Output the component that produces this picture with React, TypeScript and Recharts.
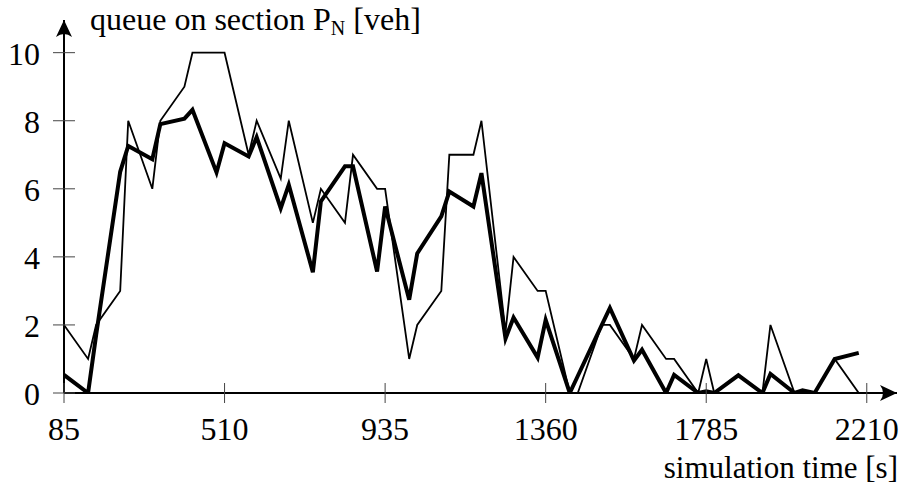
import React from 'react';
import { LineChart, Line, XAxis, YAxis, ReferenceDot, Label } from 'recharts';

// simulation time [s] of each sample
const times = [
  85, 148.75, 170, 233.75, 255, 318.75, 340, 403.75, 425, 488.75,
  510, 573.75, 595, 658.75, 680, 743.75, 765, 828.75, 850, 913.75,
  935, 998.75, 1020, 1083.75, 1105, 1168.75, 1190, 1253.75, 1275, 1338.75,
  1360, 1423.75, 1445, 1508.75, 1530, 1593.75, 1615, 1678.75, 1700, 1763.75,
  1785, 1806.25, 1870, 1933.75, 1955, 2018.75, 2040, 2072, 2125, 2188.75,
];

// thin line: measured queue
const measured = [
  2, 1, 2, 3, 8, 6, 8, 9, 10, 10,
  10, 7, 8, 6.3, 8, 5, 6, 5, 7, 6,
  6, 1, 2, 3, 7, 7, 8, 1.8, 4, 3,
  3, 0, 0, 2, 2, 1, 2, 1, 1, 0,
  1, 0, 0, 0, 2, 0, 0, 0, 1, 0,
];

// thick line: estimated queue
const estimated = [
  0.53, 0, 1.7, 6.5, 7.26, 6.87, 7.9, 8.06, 8.32, 6.48,
  7.34, 6.95, 7.52, 5.43, 6.12, 3.55, 5.63, 6.66, 6.66, 3.57,
  5.48, 2.74, 4.1, 5.19, 5.92, 5.48, 6.46, 1.6, 2.22, 1.04,
  2.15, 0, 0.5, 2.0, 2.5, 0.95, 1.27, 0, 0.53, 0,
  0.05, 0, 0.52, 0, 0.56, 0, 0.08, 0, 1.0, 1.18,
];

const xTicks = [85, 510, 935, 1360, 1785, 2210];
const yTicks = [0, 2, 4, 6, 8, 10];

const data = times.map((t, i) => ({ t, measured: measured[i], estimated: estimated[i] }));

const textStyle = { fontFamily: "'Liberation Serif', serif" };

const XTick = (props: any) => {
  const { x, y, payload } = props;
  return (
    <g>
      <line x1={x} x2={x} y1={y - 10} y2={y + 10} stroke="#444" strokeWidth={1} />
      <text x={x} y={y + 47} textAnchor="middle" style={textStyle} fontSize={32} fill="#000">
        {payload.value}
      </text>
    </g>
  );
};

const YTick = (props: any) => {
  const { x, y, payload } = props;
  return (
    <g>
      <line x1={x - 11} x2={x + 11} y1={y} y2={y} stroke="#444" strokeWidth={1} />
      <text x={x - 24} y={y + 12} textAnchor="end" style={textStyle} fontSize={32} fill="#000">
        {payload.value}
      </text>
    </g>
  );
};

const ArrowRight = (props: any) => {
  const { cx, cy } = props;
  return <path d={`M${cx},${cy} L${cx - 17},${cy - 8} Q${cx - 11},${cy} ${cx - 17},${cy + 8} Z`} fill="#000" />;
};

const ArrowUp = (props: any) => {
  const { cx, cy } = props;
  return <path d={`M${cx},${cy} L${cx - 8},${cy + 17} Q${cx},${cy + 11} ${cx + 8},${cy + 17} Z`} fill="#000" />;
};

const YTitle = (props: any) => {
  const { viewBox } = props;
  return (
    <text x={viewBox.x + 27} y={viewBox.y + 10} style={textStyle} fontSize={32} fill="#000">
      queue on section P
      <tspan fontSize={20} dy={5}>N</tspan>
      <tspan dy={-5}> [veh]</tspan>
    </text>
  );
};

const XTitle = (props: any) => {
  const { viewBox } = props;
  return (
    <text x={viewBox.x + viewBox.width + 1} y={viewBox.y + 85} textAnchor="end" style={textStyle} fontSize={31} fill="#000">
      simulation time [s]
    </text>
  );
};

export default function App() {
  return (
    <div style={{ position: 'absolute', left: 0, top: 0, background: '#fff' }}>
      <LineChart width={903} height={495} data={data} margin={{ top: 20, right: 6, bottom: 101, left: 63 }}>
        <XAxis
          type="number"
          dataKey="t"
          domain={[85, 2290]}
          ticks={xTicks}
          allowDataOverflow
          height={1}
          tickSize={0}
          tickMargin={0}
          tickLine={false}
          axisLine={{ stroke: '#000', strokeWidth: 2 }}
          tick={XTick}
          interval={0}
        >
          <Label content={XTitle} />
        </XAxis>
        <YAxis
          type="number"
          domain={[0, 10.96]}
          ticks={yTicks}
          allowDataOverflow
          width={1}
          tickSize={0}
          tickMargin={0}
          tickLine={false}
          axisLine={{ stroke: '#000', strokeWidth: 2 }}
          tick={YTick}
          interval={0}
        >
          <Label content={YTitle} />
        </YAxis>
        <Line type="linear" dataKey="measured" stroke="#000" strokeWidth={1.8} dot={false} isAnimationActive={false} />
        <Line type="linear" dataKey="estimated" stroke="#000" strokeWidth={4} dot={false} isAnimationActive={false} />
        <ReferenceDot x={2290} y={0} r={8} shape={ArrowRight} />
        <ReferenceDot x={85} y={10.96} r={8} shape={ArrowUp} />
      </LineChart>
    </div>
  );
}
